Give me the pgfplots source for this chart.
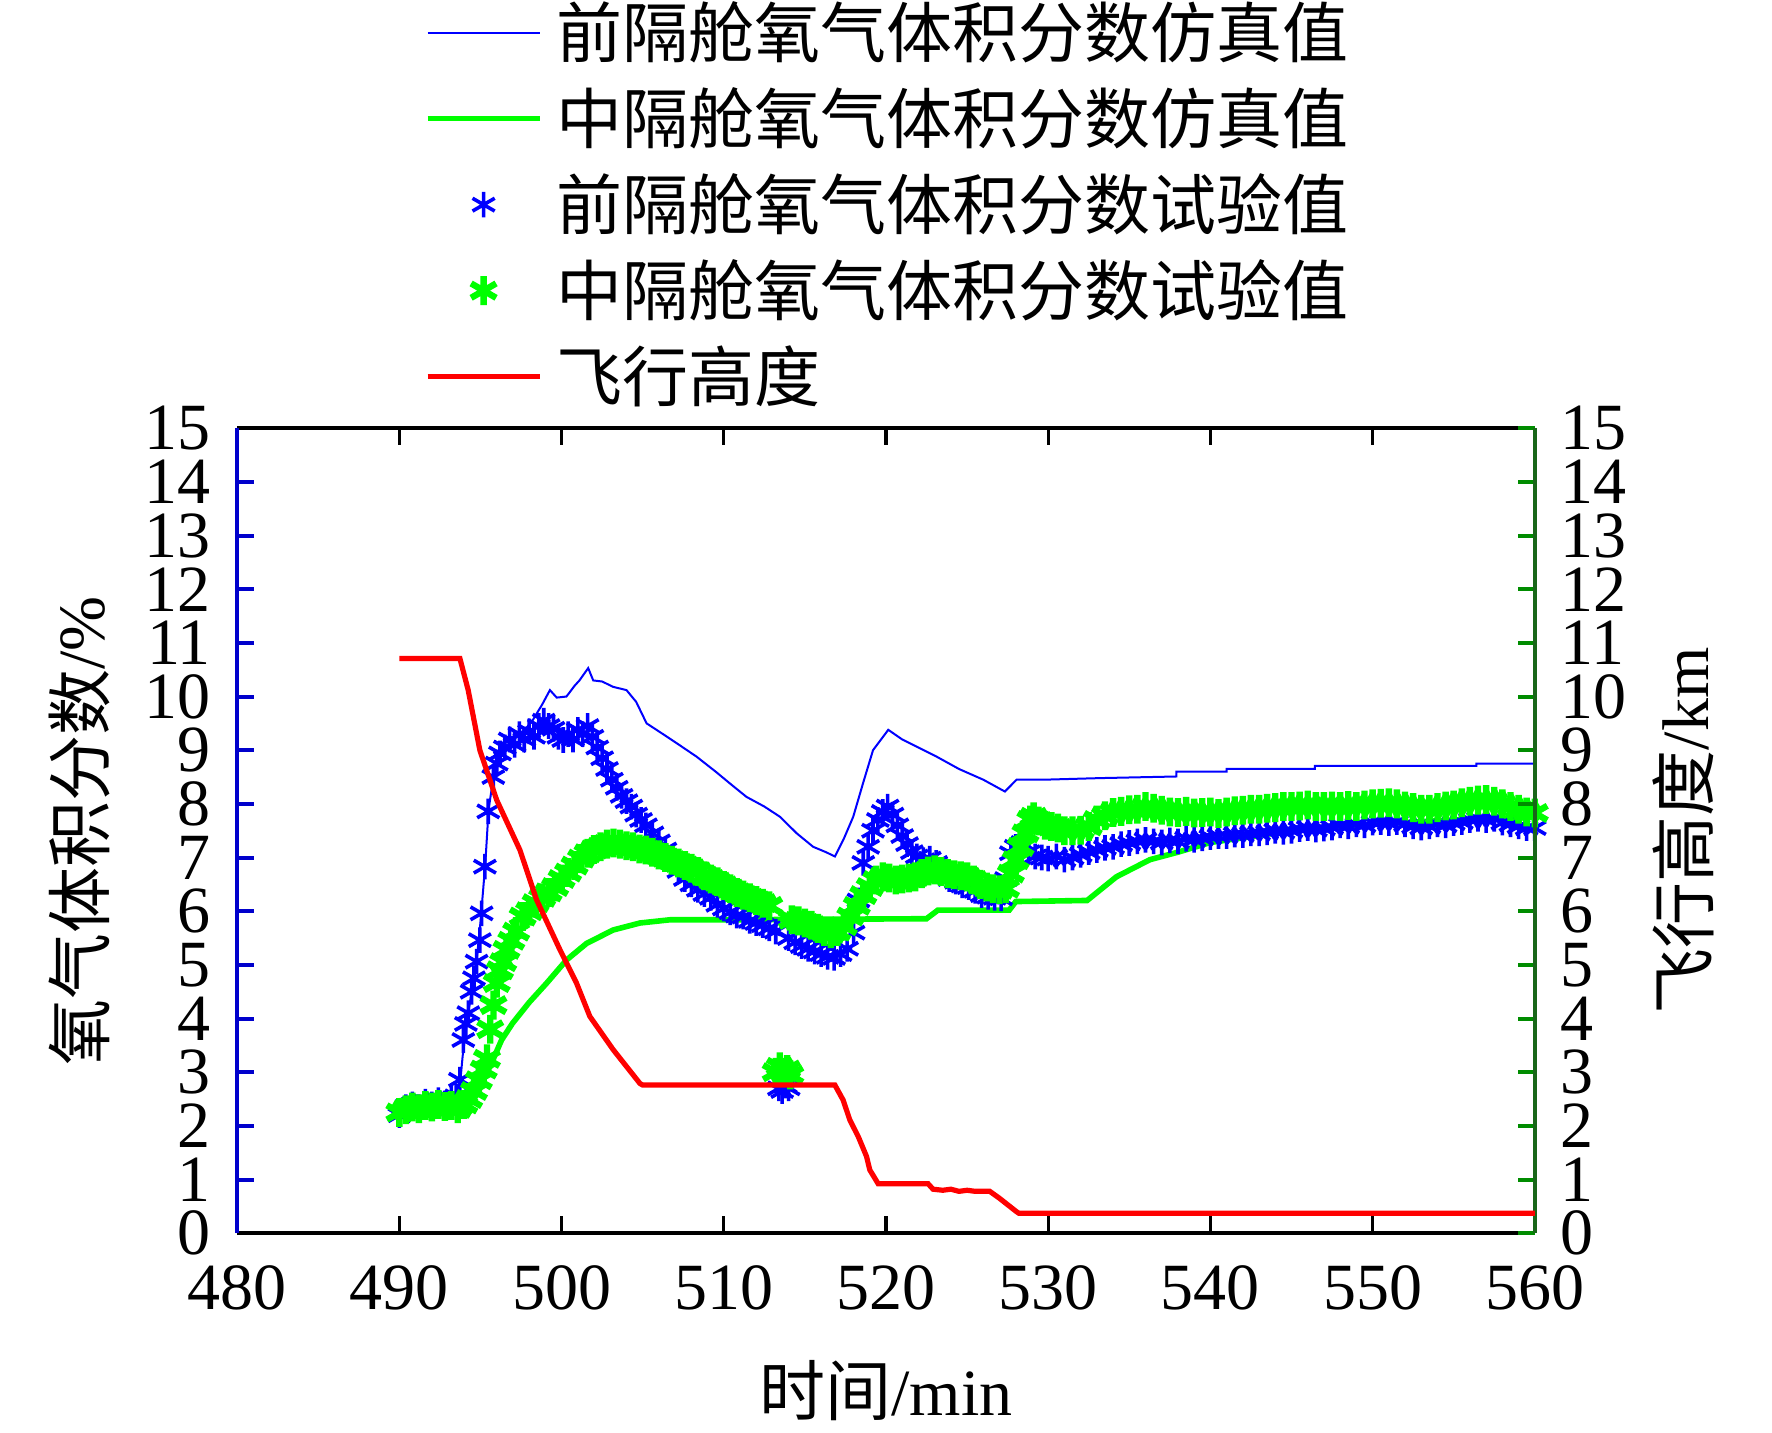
\documentclass[border=0pt]{standalone}
\usepackage{pgfplots}
\pgfplotsset{compat=1.18}
\usepackage{pgfplotstable}
\usepackage{fontspec}
\setmainfont{Liberation Serif}
\newfontfamily\cjk{Noto Sans CJK SC}
\definecolor{mblue}{rgb}{0,0,1}
\definecolor{mgreen}{rgb}{0,1,0}
\definecolor{mred}{rgb}{1,0,0}
\definecolor{axblue}{rgb}{0,0,0.8}
\definecolor{axgreen}{rgb}{0,0.55,0}
\definecolor{spgreen}{rgb}{0.1,0.4,0.1}

\pgfplotstableread{
x y
490.0 2.50
491.0 2.55
492.0 2.55
493.0 2.60
493.7 2.65
493.9 3.30
494.2 4.00
494.5 4.60
494.8 5.20
495.0 5.80
495.3 6.90
495.5 7.90
495.8 8.50
496.2 8.90
496.8 9.15
497.5 9.30
498.2 9.55
498.8 9.85
499.28 10.12
499.7 9.98
500.3 10.00
500.8 10.20
501.1 10.30
501.64 10.53
501.95 10.30
502.5 10.28
503.18 10.18
504.0 10.12
504.6 9.90
505.24 9.50
506.0 9.35
507.0 9.15
508.32 8.88
509.5 8.60
510.5 8.35
511.4 8.13
512.5 7.95
513.46 7.76
514.5 7.45
515.51 7.20
516.3 7.10
516.85 7.02
517.4 7.35
517.98 7.76
518.6 8.40
519.2 9.00
520.14 9.38
521.0 9.20
522.0 9.05
523.12 8.88
524.5 8.65
526.0 8.45
527.33 8.23
528.05 8.45
529.69 8.45
533.2 8.48
537.9 8.51
537.9 8.60
541.0 8.60
541.0 8.65
546.44 8.65
546.44 8.71
556.4 8.71
556.4 8.75
560.0 8.75
}\simfront

\pgfplotstableread{
x y
490.0 2.30
493.5 2.35
494.5 2.50
495.0 2.80
495.58 3.10
496.3 3.60
496.97 3.91
498.0 4.30
499.08 4.66
500.3 5.09
501.54 5.40
503.18 5.65
504.83 5.78
506.68 5.84
510.37 5.84
522.5 5.86
523.2 6.02
527.6 6.02
528.0 6.18
532.4 6.20
534.2 6.64
536.27 6.96
538.0 7.10
540.0 7.28
545.0 7.50
550.0 7.62
555.0 7.70
560.0 7.75
}\simmid

\pgfplotstableread{
x y
490.0 2.20
490.4 2.35
490.8 2.40
491.2 2.35
491.6 2.45
492.0 2.40
492.4 2.48
492.8 2.42
493.2 2.50
493.5 2.55
493.73 2.86
493.94 3.60
494.10 3.90
494.25 4.10
494.45 4.50
494.60 4.75
494.76 5.06
494.96 5.46
495.07 5.96
495.27 6.83
495.48 7.86
495.79 8.50
496.0 8.75
496.2 8.94
496.5 9.05
496.8 9.20
497.1 9.10
497.4 9.30
497.7 9.20
498.0 9.35
498.3 9.25
498.6 9.45
498.9 9.55
499.2 9.45
499.5 9.40
499.8 9.25
500.1 9.19
500.4 9.30
500.7 9.20
501.0 9.38
501.3 9.30
501.6 9.45
501.9 9.25
502.2 9.05
502.5 8.85
502.8 8.65
503.1 8.45
503.4 8.30
503.7 8.15
504.0 8.05
504.3 7.95
504.6 7.80
504.9 7.70
505.2 7.60
505.6 7.45
506.0 7.30
506.4 7.15
506.8 6.95
507.2 6.75
507.6 6.60
508.0 6.50
508.4 6.40
508.8 6.32
509.2 6.25
509.6 6.12
510.0 6.05
510.4 5.98
510.8 5.92
511.2 5.90
511.6 5.82
512.0 5.78
512.4 5.74
512.8 5.68
513.2 5.62
513.4 2.70
513.6 2.65
513.8 2.75
514.0 2.70
514.0 5.50
514.4 5.42
514.8 5.35
515.2 5.30
515.6 5.25
516.0 5.20
516.4 5.15
516.8 5.13
517.2 5.20
517.6 5.30
518.0 5.60
518.3 6.20
518.6 6.90
518.9 7.20
519.2 7.50
519.5 7.70
519.8 7.85
520.1 7.95
520.4 7.80
520.7 7.60
521.0 7.40
521.3 7.25
521.6 7.10
521.9 7.02
522.3 6.95
522.7 6.98
523.1 6.90
523.5 6.75
523.9 6.60
524.3 6.55
524.7 6.48
525.1 6.45
525.5 6.38
525.9 6.30
526.3 6.27
526.7 6.25
527.1 6.24
527.4 6.60
527.7 7.08
528.0 7.20
528.4 7.27
528.8 7.10
529.2 7.02
529.6 7.00
530.0 6.98
530.5 7.02
531.0 6.96
531.5 7.00
532.0 7.05
532.5 7.10
533.0 7.14
533.5 7.18
534.0 7.20
534.5 7.25
535.0 7.27
535.5 7.30
536.0 7.33
536.5 7.30
537.0 7.28
537.5 7.32
538.0 7.30
538.5 7.35
539.0 7.33
539.5 7.36
540.0 7.38
540.5 7.40
541.0 7.40
541.5 7.43
542.0 7.42
542.5 7.45
543.0 7.45
543.5 7.47
544.0 7.50
544.5 7.48
545.0 7.50
545.5 7.53
546.0 7.55
546.5 7.52
547.0 7.54
547.5 7.56
548.0 7.60
548.5 7.58
549.0 7.62
549.5 7.60
550.0 7.65
550.5 7.66
551.0 7.64
551.5 7.66
552.0 7.62
552.5 7.58
553.0 7.56
553.5 7.58
554.0 7.62
554.5 7.60
555.0 7.64
555.5 7.66
556.0 7.70
556.5 7.72
557.0 7.70
557.5 7.72
558.0 7.65
558.5 7.62
559.0 7.58
559.5 7.55
560.0 7.55
}\expfront

\pgfplotstableread{
x y
490.0 2.25
490.4 2.30
490.8 2.35
491.2 2.32
491.6 2.38
492.0 2.35
492.4 2.40
492.8 2.36
493.2 2.38
493.6 2.32
494.0 2.40
494.3 2.50
494.6 2.65
494.9 2.85
495.2 3.05
495.4 3.25
495.6 3.80
495.8 4.25
496.0 4.66
496.2 4.90
496.4 5.05
496.6 5.28
496.9 5.45
497.2 5.62
497.6 5.90
498.0 6.00
498.4 6.15
498.8 6.25
499.2 6.35
499.6 6.45
500.0 6.60
500.4 6.72
500.8 6.85
501.2 6.98
501.6 7.08
502.0 7.15
502.4 7.20
502.8 7.25
503.2 7.27
503.6 7.25
504.0 7.22
504.4 7.20
504.8 7.16
505.2 7.14
505.6 7.10
506.0 7.05
506.4 7.00
506.8 6.95
507.2 6.90
507.6 6.85
508.0 6.80
508.4 6.74
508.8 6.66
509.2 6.60
509.6 6.55
510.0 6.48
510.4 6.42
510.8 6.35
511.2 6.30
511.6 6.25
512.0 6.20
512.4 6.15
512.8 6.10
513.2 3.00
513.45 3.10
513.7 3.00
513.9 3.05
514.1 2.95
514.2 5.84
514.6 5.82
515.0 5.78
515.4 5.74
515.8 5.68
516.2 5.62
516.6 5.58
517.0 5.62
517.4 5.72
517.8 5.90
518.2 6.10
518.6 6.30
519.0 6.45
519.4 6.58
519.8 6.64
520.2 6.62
520.6 6.58
521.0 6.60
521.4 6.62
521.8 6.64
522.2 6.70
522.6 6.75
523.0 6.77
523.4 6.74
523.8 6.70
524.2 6.68
524.6 6.66
525.0 6.64
525.4 6.58
525.8 6.50
526.2 6.45
526.6 6.42
527.0 6.40
527.4 6.42
527.7 6.70
528.0 6.95
528.3 7.20
528.6 7.45
528.9 7.70
529.1 7.76
529.4 7.68
529.8 7.60
530.2 7.58
530.6 7.55
531.0 7.50
531.5 7.50
532.0 7.51
532.5 7.58
533.0 7.70
533.5 7.78
534.0 7.84
534.5 7.86
535.0 7.89
535.5 7.90
536.0 7.95
536.5 7.92
537.0 7.88
537.5 7.85
538.0 7.84
538.5 7.86
539.0 7.83
539.5 7.84
540.0 7.85
540.5 7.82
541.0 7.85
541.5 7.87
542.0 7.88
542.5 7.90
543.0 7.90
543.5 7.92
544.0 7.93
544.5 7.95
545.0 7.95
545.5 7.96
546.0 7.98
546.5 7.95
547.0 7.95
547.5 7.96
548.0 7.95
548.5 7.97
549.0 7.95
549.5 7.98
550.0 8.00
550.5 8.01
551.0 8.02
551.5 8.00
552.0 7.96
552.5 7.93
553.0 7.90
553.5 7.90
554.0 7.93
554.5 7.96
555.0 7.98
555.5 8.02
556.0 8.05
556.5 8.07
557.0 8.08
557.5 8.05
558.0 8.00
558.5 7.95
559.0 7.90
559.5 7.85
560.0 7.83
}\expmid

\pgfplotstableread{
x y
490.0 10.71
493.73 10.71
494.24 10.12
494.96 9.00
496.0 8.07
497.43 7.14
498.46 6.21
499.9 5.28
500.92 4.66
501.74 4.04
503.18 3.42
504.83 2.79
505.0 2.76
516.85 2.76
517.36 2.48
517.77 2.11
518.29 1.80
518.8 1.43
519.0 1.18
519.52 0.92
522.6 0.92
522.9 0.82
523.5 0.80
524.0 0.82
524.5 0.78
525.0 0.80
525.5 0.78
526.4 0.78
527.0 0.65
528.05 0.40
528.2 0.37
560.0 0.37
}\alt

\begin{document}
\begin{tikzpicture}
\useasboundingbox (-59.3pt,-49.9pt) rectangle (383.7pt,308.3pt);
\pgfplotsset{
  every axis/.append style={
    scale only axis, width=324.4pt, height=201.25pt,
    xmin=480, xmax=560, ymin=0, ymax=15,
    tick align=inside, major tick length=4.2pt,
    ytick={0,1,...,15},
    /pgf/number format/assume math mode=true,
    tick label style={font=\fontsize{16.5}{16.5}\selectfont},
    label style={font=\fontsize{16.5}{16.5}\selectfont},
  }
}
\begin{axis}[
  at={(0,0)}, anchor=south west,
  axis x line*=box, axis y line*=left,
  x axis line style={-, black, line width=1pt},
  y axis line style={-, draw=axblue, line width=1.1pt},
  xtick={480,490,...,560},
  xtick style={black, line width=0.8pt},
  ytick style={axblue, line width=1pt},
  xticklabel style={yshift=-4.6pt},
  yticklabel style={inner sep=0pt, xshift=-6.4pt},
  xlabel={{\cjk 时间}/min},
  xlabel style={at={(axis description cs:0.5,0)}, anchor=center, yshift=-39.25pt},
  ylabel={{\cjk 氧气体积分数}/\%},
  ylabel style={at={(axis description cs:0,0.5)}, anchor=center, yshift=39.5pt},
  legend image code/.code={\draw[mark repeat=2,mark phase=2,#1] plot coordinates {(0pt,0pt) (14pt,0pt) (28pt,0pt)};},
  legend style={at={(axis description cs:0,1)}, anchor=south west, xshift=46.7pt, yshift=5pt,
    draw=none, fill=none, inner sep=0pt, row sep=6pt, column sep=3.5pt,
    cells={anchor=west}, nodes={inner sep=0pt},
    font=\cjk\fontsize{16.5}{16.5}\selectfont},
]
\addplot[mblue, line width=0.5pt] table[x=x,y=y] {\simfront};
\addlegendentry{前隔舱氧气体积分数仿真值}
\addplot[mgreen, line width=1.4pt] table[x=x,y=y] {\simmid};
\addlegendentry{中隔舱氧气体积分数仿真值}
\addplot[mblue, only marks, mark=asterisk, mark size=3.2pt, line width=0.9pt] table[x=x,y=y] {\expfront};
\addlegendentry{前隔舱氧气体积分数试验值}
\addplot[mgreen, only marks, mark=asterisk, mark size=3.6pt, line width=1.6pt] table[x=x,y=y] {\expmid};
\addlegendentry{中隔舱氧气体积分数试验值}
\addlegendimage{mred, line width=1.3pt}
\addlegendentry{飞行高度}
\end{axis}
\begin{axis}[
  at={(0,0)}, anchor=south west,
  axis x line=none, axis y line*=right,
  y axis line style={-, draw=spgreen, line width=1.1pt},
  ytick style={axgreen, line width=1pt},
  yticklabel style={inner sep=0pt, xshift=6.25pt},
  ylabel={{\cjk 飞行高度}/km},
  ylabel style={at={(axis description cs:1,0.5)}, anchor=center, yshift=-37.25pt},
]
\addplot[mred, line width=1.3pt] table[x=x,y=y] {\alt};
\end{axis}
\end{tikzpicture}
\end{document}
